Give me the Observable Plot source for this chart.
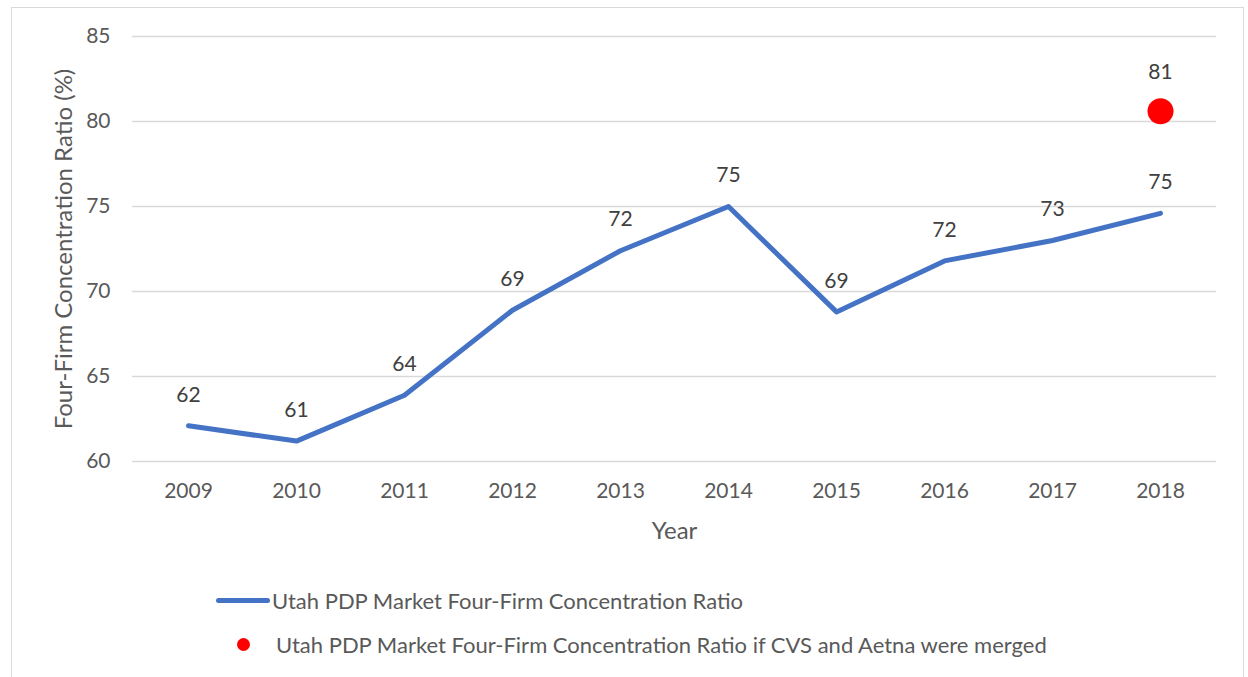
<!DOCTYPE html>
<html>
<head>
<meta charset="utf-8">
<script src="https://cdn.jsdelivr.net/npm/d3@7"></script>
<script src="https://cdn.jsdelivr.net/npm/@observablehq/plot@0.6"></script>
<style>
  html, body { margin: 0; padding: 0; background: #fff; }
  body { width: 1248px; height: 677px; overflow: hidden; position: relative; font-family: Lato, "Open Sans", sans-serif; }
  #frame { position: absolute; left: 11px; top: 7px; width: 1233px; height: 700px; border: 1px solid #d9d9d9; box-sizing: border-box; }
  #chart { position: absolute; left: 0; top: 0; }
  .leg { position: absolute; display: flex; align-items: center; font-size: 22px; color: #595959; white-space: nowrap; }
  .leg .ln { width: 54px; height: 5px; background: #4472C4; border-radius: 3px; margin-right: 2px; }
  .leg .dot { width: 13px; height: 13px; background: #FF0000; border-radius: 50%; margin-right: 26px; }
</style>
</head>
<body>
<div id="frame"></div>
<div id="chart"></div>
<div class="leg" style="left:216px; top:587px;"><span class="ln"></span><span>Utah PDP Market Four-Firm Concentration Ratio</span></div>
<div class="leg" style="left:237px; top:631px;"><span class="dot"></span><span>Utah PDP Market Four-Firm Concentration Ratio if CVS and Aetna were merged</span></div>
<script>
const years = ["2009","2010","2011","2012","2013","2014","2015","2016","2017","2018"];
const ratio = [62.1, 61.2, 63.9, 68.9, 72.4, 75.0, 68.8, 71.8, 73.0, 74.6];
const labels = ["62","61","64","69","72","75","69","72","73","75"];
const mergedYear = ["2018"];
const mergedRatio = [80.6];
const mergedLabel = ["81"];
const yTicks = [60, 65, 70, 75, 80, 85];

const lineData = years.map((y, i) => ({year: y, value: ratio[i], label: labels[i]}));
const mergedData = mergedYear.map((y, i) => ({year: y, value: mergedRatio[i], label: mergedLabel[i]}));

const chart = Plot.plot({
  width: 1248,
  height: 560,
  marginLeft: 132,
  marginRight: 32,
  marginTop: 36,
  marginBottom: 99,
  style: {fontFamily: "Lato, 'Open Sans', sans-serif", fontSize: "21px", color: "#595959", background: "transparent"},
  x: {type: "point", domain: years, padding: 0.5, label: null},
  y: {domain: [60, 85], ticks: yTicks, label: null},
  marks: [
    Plot.gridY(yTicks, {stroke: "#d9d9d9", strokeOpacity: 1, strokeWidth: 1.5}),
    Plot.axisY(yTicks, {tickSize: 0, tickPadding: 22, fontSize: 21, fill: "#595959", label: null}),
    Plot.axisX({tickSize: 0, tickPadding: 22, fontSize: 21, fill: "#595959", label: null}),
    Plot.text(["Four-Firm Concentration Ratio (%)"], {frameAnchor: "left", dx: -68, rotate: -90, textAnchor: "middle", fontSize: 24, fill: "#595959"}),
    Plot.text(["Year"], {frameAnchor: "bottom", dy: 77, fontSize: 24, fill: "#595959"}),
    Plot.line(lineData, {x: "year", y: "value", stroke: "#4472C4", strokeWidth: 5, strokeLinejoin: "round", strokeLinecap: "round"}),
    Plot.text(lineData, {x: "year", y: "value", text: "label", dy: -31, fontSize: 21, fill: "#404040"}),
    Plot.dot(mergedData, {x: "year", y: "value", r: 13, fill: "#FF0000", stroke: "none"}),
    Plot.text(mergedData, {x: "year", y: "value", text: "label", dy: -39, fontSize: 21, fill: "#404040"})
  ]
});
document.getElementById("chart").appendChild(chart);
</script>
</body>
</html>
